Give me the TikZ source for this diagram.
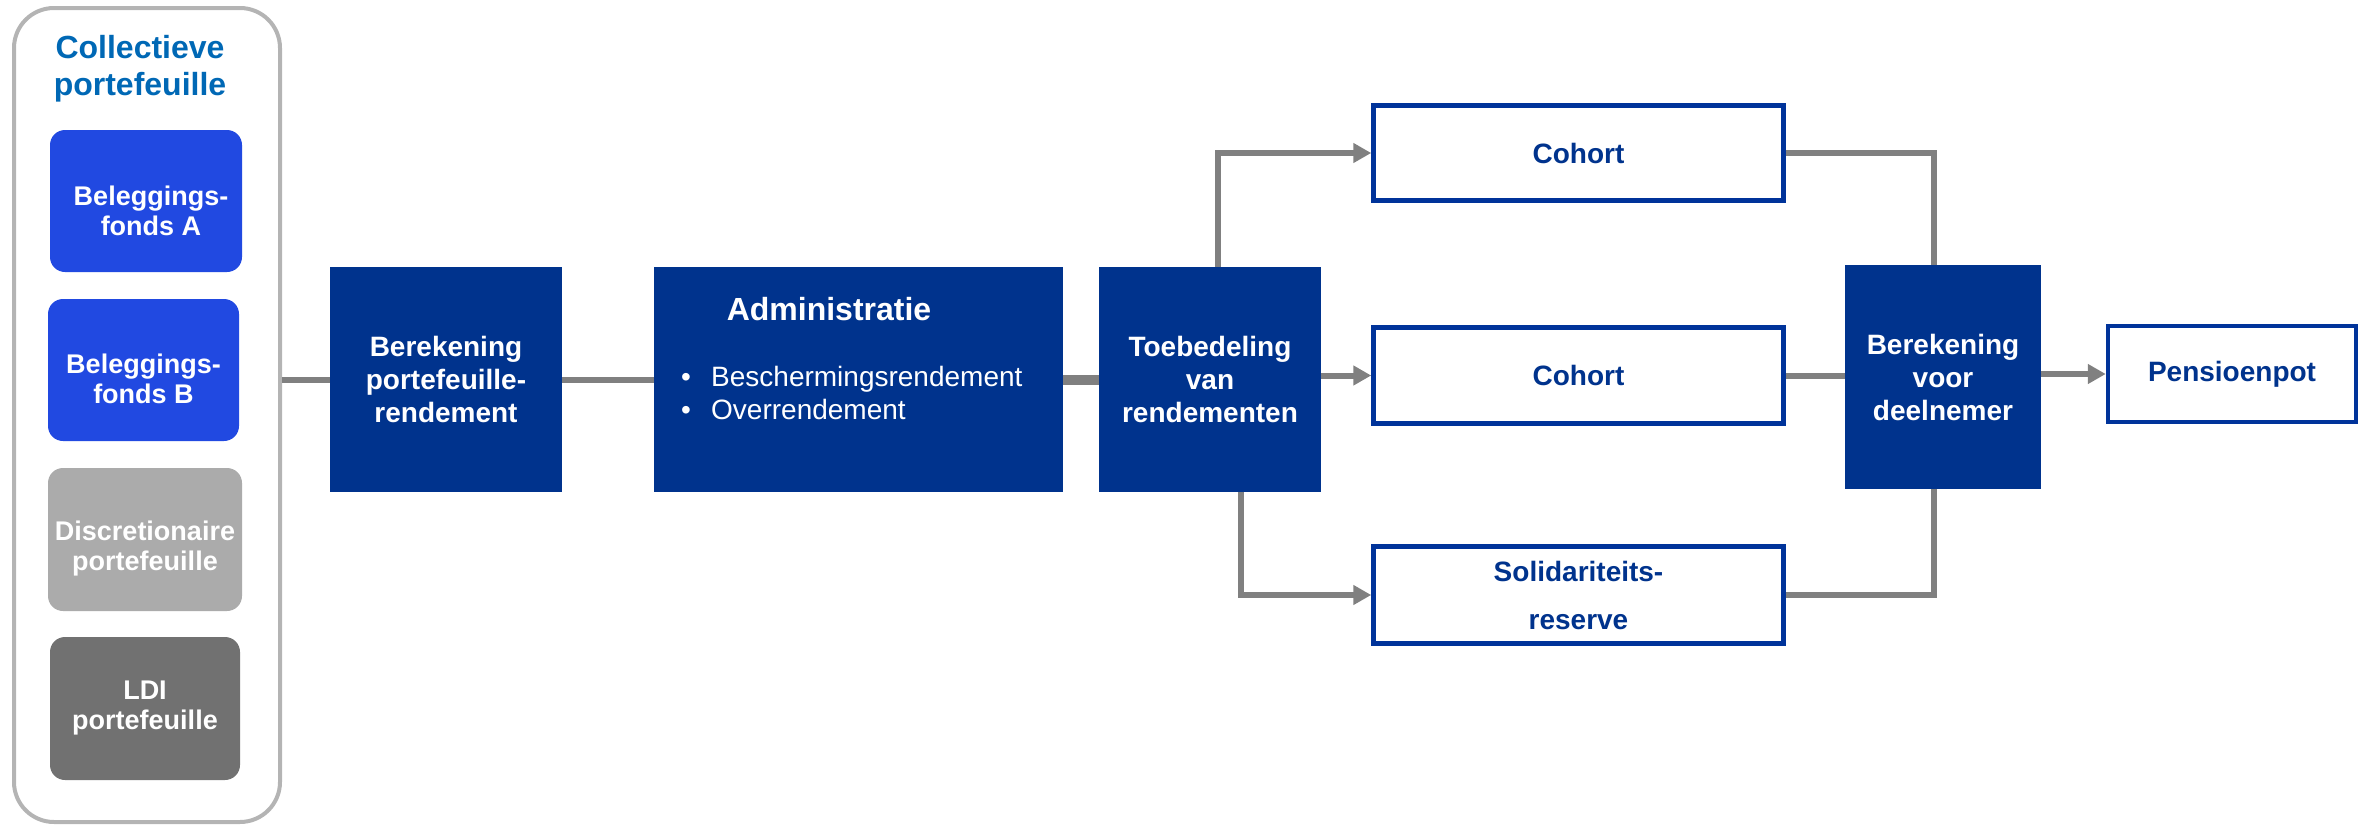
\documentclass[tikz,border=0pt]{standalone}
\usepackage{fontspec}
\setmainfont{Liberation Sans}
\usetikzlibrary{arrows.meta}

\definecolor{navy}{HTML}{00338D}
\definecolor{framebl}{HTML}{00339A}
\definecolor{titleblue}{HTML}{0068B5}
\definecolor{fundblue}{HTML}{2149E1}
\definecolor{discgray}{HTML}{ABABAB}
\definecolor{ldigray}{HTML}{717171}
\definecolor{outergray}{HTML}{B4B4B4}
\definecolor{linegray}{HTML}{808080}

\tikzset{
  fundbox/.style={fill=#1, rounded corners=15pt, inner sep=0pt},
  fundtext/.style={inner sep=0pt, text=white, align=center,
    font=\bfseries\fontsize{27}{30}\selectfont},
  procbox/.style={fill=navy, inner sep=0pt, text=white, align=center,
    font=\bfseries\fontsize{28}{33}\selectfont},
  outbox/.style={draw=framebl, line width=4.5pt, fill=white, inner sep=0pt,
    text=navy, align=center, font=\bfseries\fontsize{28}{33}\selectfont},
  conn/.style={draw=linegray, line width=6pt},
  thickconn/.style={draw=linegray, line width=10pt},
  arr/.style={conn, -{Triangle[length=18pt,width=19pt]}},
}

\begin{document}
\begin{tikzpicture}[x=1pt,y=-1pt]
\useasboundingbox (0,0) rectangle (2367,827);

% collective portfolio container
\node[draw=outergray, line width=4pt, rounded corners=40pt,
      minimum width=266pt, minimum height=814pt, inner sep=0pt]
  (coll) at (147,415) {};
\node[text=titleblue, align=center, inner sep=0pt,
      font=\bfseries\fontsize{32}{37}\selectfont]
  (colltitle) at (140,69) {Collectieve\\portefeuille};

% funds inside the container
\node[fundbox=fundblue, minimum width=192pt, minimum height=142pt]
  (fa) at (146,201) {};
\node[fundtext] (fa-text) at ([xshift=5pt,yshift=-10pt]fa.center)
  {Beleggings-\\fonds A};
\node[fundbox=fundblue, minimum width=191pt, minimum height=142pt]
  (fb) at (143.5,370) {};
\node[fundtext] (fb-text) at ([yshift=-9pt]fb.center)
  {Beleggings-\\fonds B};
\node[fundbox=discgray, minimum width=194pt, minimum height=143pt]
  (disc) at (145,539.5) {};
\node[fundtext] (disc-text) at ([yshift=-9pt]disc.center)
  {Discretionaire\\portefeuille};
\node[fundbox=ldigray, minimum width=190pt, minimum height=143pt]
  (ldi) at (145,708.5) {};
\node[fundtext] (ldi-text) at (ldi.center) {LDI\\portefeuille};

% processing steps
\node[procbox, minimum width=232pt, minimum height=225pt]
  (ber) at (446,379.5) {Berekening\\portefeuille-\\rendement};
\node[procbox, minimum width=409pt, minimum height=225pt]
  (adm) at (858.5,379.5) {};
\node[text=white, inner sep=0pt, anchor=base,
      font=\bfseries\fontsize{32}{37}\selectfont]
  (admtitle) at (829,320) {Administratie};
\node[text=white, inner sep=0pt, anchor=base west,
      font=\fontsize{28}{33}\selectfont] (b1) at (681,386) {•};
\node[text=white, inner sep=0pt, anchor=base west,
      font=\fontsize{28}{33}\selectfont] (t1) at (711,386) {Beschermingsrendement};
\node[text=white, inner sep=0pt, anchor=base west,
      font=\fontsize{28}{33}\selectfont] (b2) at (681,419) {•};
\node[text=white, inner sep=0pt, anchor=base west,
      font=\fontsize{28}{33}\selectfont] (t2) at (711,419) {Overrendement};

\node[procbox, minimum width=222pt, minimum height=225pt]
  (toe) at (1210,379.5) {Toebedeling\\van\\rendementen};

% allocation targets
\node[outbox, minimum width=410pt, minimum height=95pt]
  (c1) at (1578.5,153) {Cohort};
\node[outbox, minimum width=410pt, minimum height=96pt]
  (c2) at (1578.5,375.5) {Cohort};
\node[outbox, minimum width=410pt, minimum height=97pt,
      font=\bfseries\fontsize{28}{48}\selectfont]
  (sol) at (1578.5,595) {Solidariteits-\\reserve};

\node[procbox, minimum width=196pt, minimum height=224pt]
  (bv) at (1943,377) {Berekening\\voor\\deelnemer};
\node[outbox, minimum width=248pt, minimum height=96pt]
  (pens) at (2232,374) {Pensioenpot};

% connectors
\draw[conn] (coll.east |- ber.west) -- (ber.west);
\draw[conn] (ber.east) -- (adm.west);
\draw[thickconn] (adm.east) -- (toe.west);
\draw[arr] ([xshift=8pt]toe.north) |- (c1.west);
\draw[arr] (toe.east |- c2.west) -- (c2.west);
\draw[arr] ([xshift=31pt]toe.south) |- (sol.west);
\draw[conn] (c1.east) -| ([xshift=-9pt]bv.north);
\draw[conn] (c2.east) -- (bv.west |- c2.east);
\draw[conn] (sol.east) -| ([xshift=-9pt]bv.south);
\draw[arr] (bv.east |- pens.west) -- (pens.west);
\end{tikzpicture}
\end{document}
